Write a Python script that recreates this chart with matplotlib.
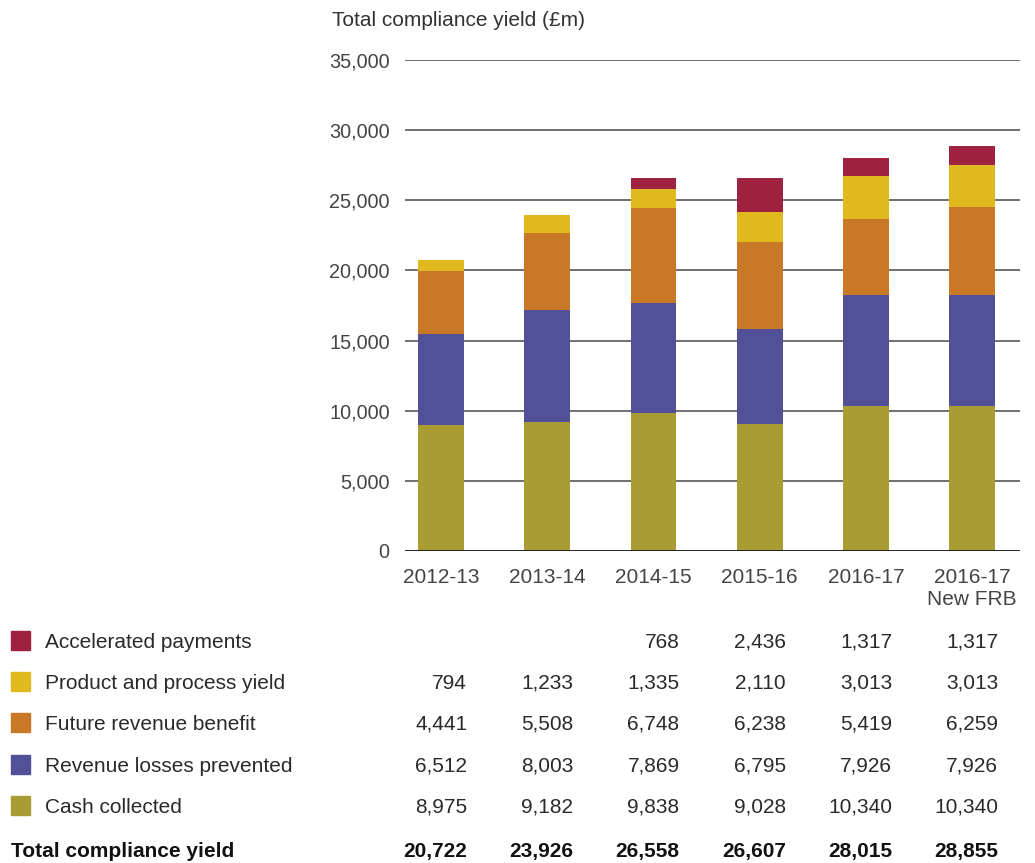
import matplotlib
matplotlib.use('Agg')
import matplotlib.pyplot as plt
import matplotlib.transforms as mtransforms
from matplotlib.patches import Rectangle

plt.rcParams['font.family'] = ['Liberation Sans', 'DejaVu Sans']

# compliance yield components, £m
years = ['2012-13', '2013-14', '2014-15', '2015-16', '2016-17', '2016-17\nNew FRB']
cash_collected = [8975, 9182, 9838, 9028, 10340, 10340]
revenue_losses = [6512, 8003, 7869, 6795, 7926, 7926]
future_revenue = [4441, 5508, 6748, 6238, 5419, 6259]
product_yield = [794, 1233, 1335, 2110, 3013, 3013]
accelerated = [None, None, 768, 2436, 1317, 1317]
totals = [20722, 23926, 26558, 26607, 28015, 28855]

series = [
    ('Accelerated payments', accelerated, '#9e2140'),
    ('Product and process yield', product_yield, '#e0b91e'),
    ('Future revenue benefit', future_revenue, '#c87826'),
    ('Revenue losses prevented', revenue_losses, '#525097'),
    ('Cash collected', cash_collected, '#a89c32'),
]

W, H = 1035, 863
FS = 15
fig = plt.figure(figsize=(W / 100, H / 100), dpi=100)
ax = fig.add_axes([405 / W, 1 - 551 / H, (1020 - 405) / W, (551 - 60) / H])

x = list(range(len(years)))
bottom = [0] * len(years)
for name, vals, col in reversed(series):
    v = [0 if a is None else a for a in vals]
    ax.bar(x, v, width=0.43, bottom=bottom, color=col, zorder=3)
    bottom = [b + a for b, a in zip(bottom, v)]

ax.set_xlim(-0.34, 5.45)
ax.set_ylim(0, 35000)
ax.set_yticks(range(0, 35001, 5000))
ax.set_yticklabels([f'{t:,}' for t in range(0, 35001, 5000)])
ax.set_xticks(x)
ax.set_xticklabels(years, linespacing=1.2)
for s in ax.spines.values():
    s.set_visible(False)
ax.tick_params(length=0, labelsize=FS, colors='#444444')
ax.tick_params(axis='y', labelsize=14.3, pad=11)
ax.tick_params(axis='x', pad=12)
for t in range(5000, 35001, 5000):
    ax.axhline(t, color='#707070', lw=1.4, zorder=1)
ax.axhline(0, color='#222222', lw=1.4, zorder=4)

fig.text(332 / W, 1 - 21 / H, 'Total compliance yield (£m)', fontsize=FS,
         color='#333333', va='center', ha='left')

# table of values under the chart
trans = mtransforms.blended_transform_factory(ax.transData, fig.transFigure)
row_y = [642, 683, 724, 766, 807]
for (name, vals, col), ry in zip(series, row_y):
    yf = 1 - ry / H
    fig.patches.append(Rectangle((11 / W, yf - 7.5 / H), 19 / W, 19 / H,
                                 transform=fig.transFigure, color=col))
    fig.text(45 / W, yf, name, fontsize=FS, color='#2a2a2a', va='center')
    for xi, v in zip(x, vals):
        if v is not None:
            ax.text(xi + 0.245, yf, f'{v:,}', transform=trans, fontsize=FS,
                    color='#2a2a2a', va='center', ha='right')

yf = 1 - 851 / H
fig.text(11 / W, yf, 'Total compliance yield', fontsize=FS, fontweight='bold',
         color='#111111', va='center')
for xi, v in zip(x, totals):
    ax.text(xi + 0.245, yf, f'{v:,}', transform=trans, fontsize=FS,
            fontweight='bold', color='#111111', va='center', ha='right')

fig.savefig('out.png', dpi=100)
